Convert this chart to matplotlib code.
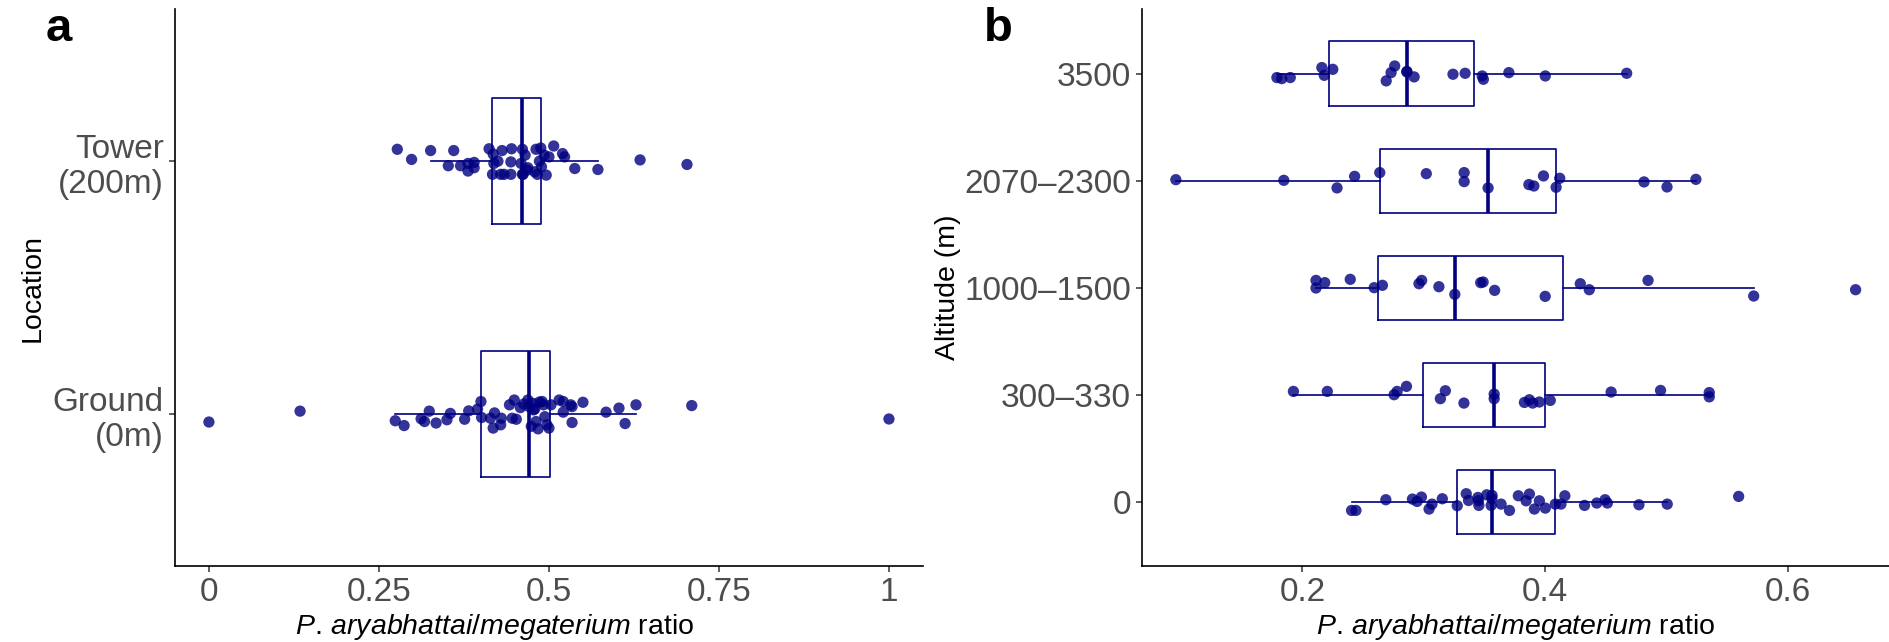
import numpy as np
import matplotlib.pyplot as plt

plt.rcParams['font.family'] = ['Liberation Sans', 'DejaVu Sans']
plt.rcParams['mathtext.fontset'] = 'custom'
plt.rcParams['mathtext.rm'] = 'Liberation Sans'
plt.rcParams['mathtext.it'] = 'Liberation Sans:italic'

# ---- panel a: location ----
location_labels = ['Ground\n(0m)', 'Tower\n(200m)']

ground_ratio = [0.000, 0.134, 0.274, 0.287, 0.312, 0.317, 0.324, 0.334, 0.350, 0.355,
                0.376, 0.382, 0.395, 0.400, 0.401, 0.414, 0.418, 0.420, 0.429, 0.430,
                0.442, 0.446, 0.449, 0.452, 0.458, 0.463, 0.469, 0.471, 0.474, 0.476,
                0.477, 0.479, 0.481, 0.484, 0.486, 0.490, 0.492, 0.494, 0.497, 0.500,
                0.503, 0.515, 0.521, 0.521, 0.532, 0.534, 0.534, 0.550, 0.584, 0.603,
                0.612, 0.628, 0.710, 1.000]
ground_jitter = [-0.031, 0.012, -0.026, -0.045, -0.018, -0.029, 0.012, -0.035, -0.022, 0.003,
                 -0.020, 0.013, 0.020, 0.050, -0.013, -0.016, -0.055, 0.005, -0.042, -0.016,
                 0.037, -0.016, 0.056, -0.020, 0.026, 0.040, 0.056, 0.030, -0.048, 0.043,
                 0.017, 0.020, -0.029, -0.058, 0.048, 0.050, 0.037, -0.010, -0.042, -0.055,
                 0.037, 0.056, 0.050, 0.008, 0.037, 0.030, -0.033, 0.047, 0.008, 0.024,
                 -0.037, 0.037, 0.034, -0.019]

tower_ratio = [0.277, 0.298, 0.326, 0.352, 0.360, 0.370, 0.381, 0.381, 0.390, 0.390,
               0.412, 0.417, 0.418, 0.419, 0.425, 0.429, 0.431, 0.434, 0.444, 0.444,
               0.445, 0.459, 0.461, 0.461, 0.462, 0.465, 0.468, 0.469, 0.479, 0.481,
               0.483, 0.486, 0.488, 0.489, 0.493, 0.496, 0.500, 0.507, 0.520, 0.523,
               0.538, 0.572, 0.634, 0.703]
tower_jitter = [0.047, 0.007, 0.042, -0.018, 0.042, -0.018, -0.009, -0.039, -0.005, -0.026,
                0.049, -0.052, 0.028, -0.009, 0.000, -0.052, 0.042, -0.052, -0.052, -0.003,
                0.049, -0.009, 0.047, -0.052, -0.052, 0.024, -0.035, -0.026, -0.042, 0.047,
                -0.052, 0.000, 0.052, -0.022, 0.024, -0.055, 0.017, 0.060, 0.030, 0.017,
                -0.029, -0.033, 0.005, -0.013]

# ---- panel b: altitude ----
altitude_labels = ['0', '300\u2013330', '1000\u20131500', '2070\u20132300', '3500']

alt_0 = [0.2405, 0.2441, 0.2687, 0.2906, 0.2944, 0.2980, 0.3043, 0.3067, 0.3152, 0.3275,
         0.3349, 0.3368, 0.3445, 0.3450, 0.3453, 0.3518, 0.3554, 0.3560, 0.3562, 0.3636,
         0.3705, 0.3778, 0.3842, 0.3869, 0.3910, 0.3951, 0.4000, 0.4082, 0.4129, 0.4161,
         0.4323, 0.4424, 0.4492, 0.4511, 0.4771, 0.5004, 0.5592]
jit_0 = [-0.081, -0.081, 0.019, 0.025, 0.003, 0.044, -0.068, -0.022, 0.028, -0.037,
         0.075, 0.012, 0.040, 0.010, -0.034, 0.065, -0.034, 0.030, 0.059, -0.022,
         -0.081, 0.056, 0.009, 0.072, -0.068, 0.009, -0.059, -0.022, -0.022, 0.056,
         -0.034, -0.012, 0.019, -0.012, -0.028, -0.022, 0.050]

alt_300 = [0.1926, 0.2205, 0.2755, 0.2780, 0.2857, 0.3136, 0.3177, 0.3330, 0.3579, 0.3579,
           0.3828, 0.3869, 0.3896, 0.3951, 0.4041, 0.4542, 0.4949, 0.5350, 0.5350]
jit_300 = [0.031, 0.031, 0.000, 0.031, 0.078, -0.037, 0.037, -0.078, 0.006, -0.037,
           -0.072, -0.047, -0.078, -0.068, -0.053, 0.025, 0.040, 0.020, -0.020]

alt_1000 = [0.2112, 0.2112, 0.2184, 0.2394, 0.2591, 0.2659, 0.2960, 0.2982, 0.3124, 0.3255,
            0.3468, 0.3488, 0.3583, 0.3999, 0.4288, 0.4362, 0.4846, 0.5716, 0.6555]
jit_1000 = [0.068, -0.003, 0.047, 0.078, 0.000, 0.022, 0.037, 0.068, 0.009, -0.062,
            0.047, 0.053, -0.025, -0.081, 0.037, -0.019, 0.068, -0.078, -0.019]

alt_2070 = [0.0958, 0.1847, 0.2285, 0.2430, 0.2637, 0.3020, 0.3332, 0.3332, 0.3529, 0.3865,
            0.3906, 0.3985, 0.4089, 0.4119, 0.4813, 0.5002, 0.5240]
jit_2070 = [0.009, 0.003, -0.068, 0.040, 0.075, 0.065, 0.075, -0.009, -0.068, -0.037,
            -0.050, 0.044, -0.062, 0.022, -0.012, -0.059, 0.012]

alt_3500 = [0.179, 0.183, 0.190, 0.216, 0.218, 0.225, 0.269, 0.273, 0.276, 0.286,
            0.286, 0.292, 0.324, 0.334, 0.348, 0.349, 0.370, 0.400, 0.467]
jit_3500 = [-0.037, -0.047, -0.037, 0.056, -0.016, 0.040, -0.068, 0.009, 0.071, 0.016,
            0.020, -0.031, -0.006, 0.003, -0.022, -0.053, 0.009, -0.022, 0.003]

navy = '#000080'
label_gray = '#4D4D4D'
xlab = r'$\mathit{P.}\,\mathit{aryabhattai/megaterium}$ ratio'


def draw_panel(ax, groups, jitters, labels, box_w):
    pos = np.arange(1, len(groups) + 1)
    ax.boxplot(groups, positions=pos, widths=box_w, orientation='horizontal',
               whis=1.5, showfliers=False, showcaps=False,
               boxprops=dict(color=navy, linewidth=1.2),
               whiskerprops=dict(color=navy, linewidth=1.2),
               medianprops=dict(color=navy, linewidth=2.6))
    for p, vals, jit in zip(pos, groups, jitters):
        ax.scatter(vals, p + np.array(jit), s=66, color=navy, alpha=0.8,
                   edgecolors='none', zorder=3)
    ax.set_yticks(pos)
    ax.set_yticklabels(labels)
    ax.set_ylim(0.4, len(groups) + 0.6)
    for side in ['top', 'right']:
        ax.spines[side].set_visible(False)
    for side in ['left', 'bottom']:
        ax.spines[side].set_linewidth(1.2)
    ax.tick_params(axis='both', labelsize=24, labelcolor=label_gray,
                   color='#333333', length=4, width=1.1, pad=4)
    ax.set_xlabel(xlab, fontsize=20.5)


fig = plt.figure(figsize=(18.89, 6.42), dpi=100)

ax1 = fig.add_axes([0.0926, 0.1184, 0.396, 0.867])
draw_panel(ax1, [ground_ratio, tower_ratio], [ground_jitter, tower_jitter],
           location_labels, 0.5)
ax1.set_xlim(-0.05, 1.05)
ax1.set_xticks([0, 0.25, 0.5, 0.75, 1])
ax1.set_xticklabels(['0', '0.25', '0.5', '0.75', '1'])
ax1.set_ylabel('Location', fontsize=20.5, labelpad=5)
ax1.xaxis.set_label_coords(0.427, -0.083)

ax2 = fig.add_axes([0.6046, 0.1184, 0.3954, 0.867])
draw_panel(ax2, [alt_0, alt_300, alt_1000, alt_2070, alt_3500],
           [jit_0, jit_300, jit_1000, jit_2070, jit_3500], altitude_labels, 0.6)
ax2.set_xlim(0.068, 0.683)
ax2.set_xticks([0.2, 0.4, 0.6])
ax2.set_xticklabels(['0.2', '0.4', '0.6'])
ax2.set_ylabel('Altitude (m)', fontsize=20.5, labelpad=2.5)
ax2.xaxis.set_label_coords(0.5, -0.083)

fig.text(0.024, 0.955, 'a', fontsize=34, fontweight='bold', va='center')
fig.text(0.521, 0.955, 'b', fontsize=34, fontweight='bold', va='center')

fig.savefig('out.png', dpi=100)
